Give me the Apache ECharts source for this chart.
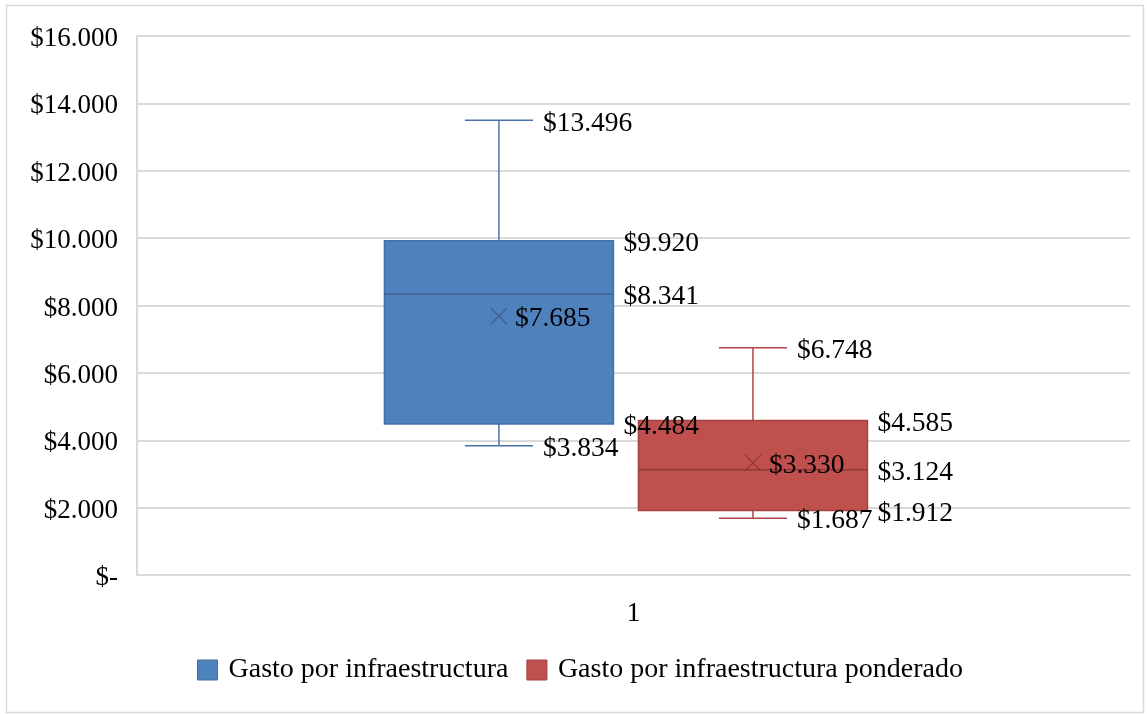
<!DOCTYPE html>
<html><head><meta charset="utf-8">
<script src="https://cdn.jsdelivr.net/npm/echarts@6/dist/echarts.min.js"></script>
<style>html,body{margin:0;padding:0;background:#fff}#c{width:1147px;height:714px}</style>
</head><body><div id="c"></div><script>
var categories = ['1'];
var seriesNames = ['Gasto por infraestructura', 'Gasto por infraestructura ponderado'];
// order: min, Q1, median, Q3, max, mean
var gastoInfra = [3834, 4484, 8341, 9920, 13496, 7685];
var gastoPonderado = [1687, 1912, 3124, 4585, 6748, 3330];
var yMin = 0, yMax = 16000, yStep = 2000;

var FONT = '"Liberation Serif", "Times New Roman", serif';
var FS = 27;
var LFS = 27.5;
var BOX_W = 0.2306, CAP_W = 0.0685;
var styles = [
  {off: -0.1355, fill: '#4F81BD', border: '#4170A8', line: '#4A72A8', med: '#3D6290', mean: '#3B5C88'},
  {off: 0.1203, fill: '#C0504D', border: '#A5413E', line: '#AD4643', med: '#8E3936', mean: '#8A3835'}
];

function fmt(v) {
  if (v === 0) return '$-';
  return '$' + String(Math.round(v)).replace(/\B(?=(\d{3})+(?!\d))/g, '.');
}

function geom(api, off) {
  var band = api.size([1, 0])[0];
  var cat = api.value(0);
  var cx = api.coord([cat, 0])[0] + band * off;
  function y(i) { return api.coord([cat, api.value(i)])[1]; }
  return {cx: cx, bw: band * BOX_W, cw: band * CAP_W,
    yMin: y(1), yQ1: y(2), yMed: y(3), yQ3: y(4), yMax: y(5), yMean: y(6)};
}

function shapeRender(st) {
  return function (params, api) {
    var g = geom(api, st.off);
    function ln(x1, y1, x2, y2, c, w) {
      return {type: 'line', shape: {x1: x1, y1: y1, x2: x2, y2: y2}, style: {stroke: c, lineWidth: w || 1.5}};
    }
    var m = 8;
    return {type: 'group', children: [
      ln(g.cx, g.yQ3, g.cx, g.yMax, st.line),
      ln(g.cx - g.cw / 2, g.yMax, g.cx + g.cw / 2, g.yMax, st.line),
      ln(g.cx, g.yQ1, g.cx, g.yMin, st.line),
      ln(g.cx - g.cw / 2, g.yMin, g.cx + g.cw / 2, g.yMin, st.line),
      {type: 'rect', shape: {x: g.cx - g.bw / 2, y: g.yQ3, width: g.bw, height: g.yQ1 - g.yQ3},
        style: {fill: st.fill, stroke: st.border, lineWidth: 1.5}},
      ln(g.cx - g.bw / 2, g.yMed, g.cx + g.bw / 2, g.yMed, st.med),
      ln(g.cx - m, g.yMean - m, g.cx + m, g.yMean + m, st.mean, 1.2),
      ln(g.cx - m, g.yMean + m, g.cx + m, g.yMean - m, st.mean, 1.2)
    ]};
  };
}

function labelRender(st) {
  return function (params, api) {
    var g = geom(api, st.off);
    function tx(x, y, v) {
      return {type: 'text', style: {text: fmt(v), x: x, y: y + 3, fill: '#000', font: LFS + 'px ' + FONT,
        textAlign: 'left', textVerticalAlign: 'middle'}};
    }
    var capR = g.cx + g.cw / 2 + 10, boxR = g.cx + g.bw / 2 + 10;
    return {type: 'group', children: [
      tx(capR, g.yMax, api.value(5)),
      tx(boxR, g.yQ3, api.value(4)),
      tx(boxR, g.yMed, api.value(3)),
      tx(boxR, g.yQ1, api.value(2)),
      tx(capR, g.yMin, api.value(1)),
      tx(g.cx + 16, g.yMean, api.value(6))
    ]};
  };
}

var datasets = [gastoInfra, gastoPonderado];
var series = [];
datasets.forEach(function (d, i) {
  series.push({
    name: seriesNames[i], type: 'custom', z: 2,
    renderItem: shapeRender(styles[i]),
    itemStyle: {color: styles[i].fill, borderColor: styles[i].border, borderWidth: 1},
    encode: {x: 0, y: [1, 2, 3, 4, 5, 6]},
    data: [[0].concat(d)]
  });
});
datasets.forEach(function (d, i) {
  series.push({
    name: 'lbl' + i, type: 'custom', z: 10, silent: true,
    renderItem: labelRender(styles[i]),
    encode: {x: 0, y: [1, 2, 3, 4, 5, 6]},
    data: [[0].concat(d)]
  });
});

var chart = echarts.init(document.getElementById('c'), null, {renderer: 'canvas'});
chart.setOption({
  backgroundColor: '#fff',
  animation: false,
  textStyle: {fontFamily: FONT},
  graphic: [{type: 'rect', shape: {x: 6.5, y: 5.5, width: 1137, height: 707},
    style: {fill: 'none', stroke: '#D9D9D9', lineWidth: 1.5}, silent: true, z: -1}],
  grid: {left: 137, right: 17, top: 36, bottom: 139},
  xAxis: {
    type: 'category', data: categories, boundaryGap: true,
    axisLine: {lineStyle: {color: '#D9D9D9', width: 2}},
    axisTick: {show: false},
    axisLabel: {color: '#000', fontSize: 28, fontFamily: FONT, margin: 25}
  },
  yAxis: {
    type: 'value', min: yMin, max: yMax, interval: yStep,
    axisLine: {show: true, lineStyle: {color: '#D9D9D9', width: 2}},
    axisTick: {show: false},
    splitLine: {lineStyle: {color: '#D9D9D9', width: 2}},
    axisLabel: {
      color: '#000', fontSize: FS, fontFamily: FONT, margin: 19,
      formatter: function (v) { return '{v|' + fmt(v) + '}'; },
      rich: {v: {color: '#000', fontSize: FS, fontFamily: FONT, padding: [6, 0, 0, 0]}}
    }
  },
  legend: {
    data: [
      {name: seriesNames[0], itemStyle: {color: styles[0].fill, borderColor: styles[0].border, borderWidth: 1}},
      {name: seriesNames[1], itemStyle: {color: styles[1].fill, borderColor: styles[1].border, borderWidth: 1}}
    ],
    left: 192, top: 651, icon: 'rect', itemWidth: 20, itemHeight: 20, itemGap: 18,
    textStyle: {color: '#000', fontSize: 28, fontFamily: FONT, padding: [0, 0, 0, 6]}
  },
  series: series
});
</script></body></html>
